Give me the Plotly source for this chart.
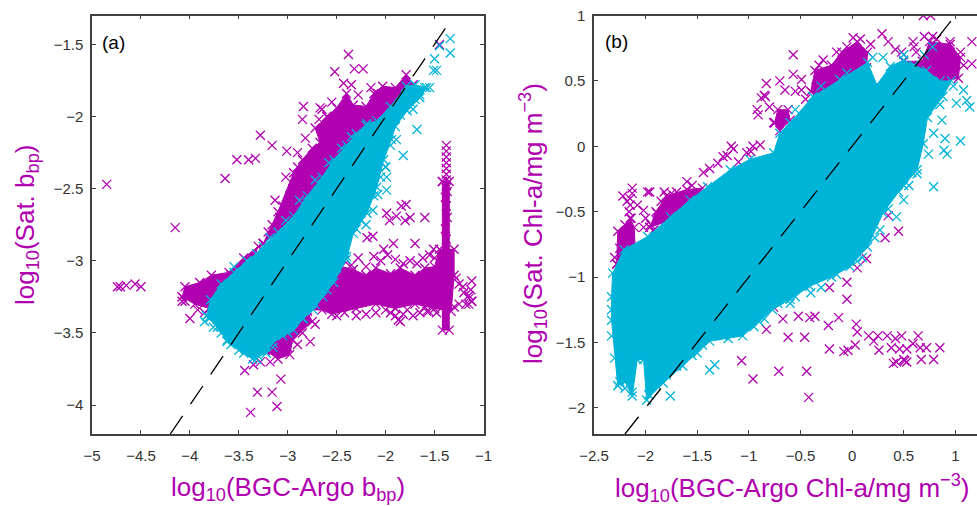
import plotly.graph_objects as go

MAG = "#b000b0"
CYA = "#00b4d8"
TXT = "#333333"

# Panel (a): dense cloud outlines
a_cyan_x = [-3.83,-3.79,-3.68,-3.55,-3.42,-3.32,-3.25,-3.1,-2.94,-2.8,-2.65,-2.53,-2.4,-2.3,-2.19,-2.09,-1.95,-1.79,-1.7,-1.58,-1.65,-1.78,-1.9,-1.94,-2.02,-2.09,-2.19,-2.33,-2.4,-2.53,-2.64,-2.74,-2.84,-2.94,-3.05,-3.15,-3.22,-3.36,-3.5,-3.62,-3.72]
a_cyan_y = [-3.38,-3.27,-3.16,-3.08,-3.0,-2.95,-2.9,-2.8,-2.69,-2.55,-2.42,-2.3,-2.2,-2.12,-2.05,-2.03,-1.93,-1.79,-1.78,-1.8,-1.87,-1.96,-2.07,-2.16,-2.3,-2.49,-2.67,-2.81,-2.99,-3.15,-3.25,-3.34,-3.4,-3.48,-3.52,-3.57,-3.64,-3.68,-3.62,-3.55,-3.46]
a_mag1_x = [-4.08,-4.05,-3.9,-3.78,-3.6,-3.45,-3.3,-3.5,-3.72,-3.8,-3.95]
a_mag1_y = [-3.25,-3.18,-3.15,-3.1,-3.08,-2.98,-2.9,-3.2,-3.36,-3.33,-3.3]
a_mag2_x = [-3.25,-3.1,-2.94,-2.85,-2.75,-2.67,-2.72,-2.6,-2.5,-2.4,-2.33,-2.2,-2.12,-2.03,-1.9,-1.79,-1.72,-1.9,-2.2,-2.6,-3.0]
a_mag2_y = [-2.88,-2.66,-2.39,-2.3,-2.22,-2.18,-2.08,-2.0,-1.94,-1.84,-1.92,-1.93,-1.84,-1.79,-1.8,-1.71,-1.78,-1.9,-2.1,-2.4,-2.75]
a_mag3_x = [-2.65,-2.45,-2.33,-2.2,-2.1,-1.95,-1.85,-1.7,-1.6,-1.5,-1.45,-1.3,-1.3,-1.33,-1.5,-1.7,-1.9,-2.1,-2.3,-2.55,-2.65,-2.8]
a_mag3_y = [-3.2,-3.04,-3.06,-3.1,-3.05,-3.09,-3.05,-3.1,-3.05,-3.04,-2.92,-2.92,-3.1,-3.35,-3.33,-3.3,-3.33,-3.3,-3.33,-3.37,-3.34,-3.34]
a_mag4_x = [-3.23,-3.12,-2.9,-2.8,-2.75,-2.95,-2.98,-3.1]
a_mag4_y = [-3.62,-3.52,-3.42,-3.35,-3.42,-3.55,-3.65,-3.68]
a_col_x = [-1.42,-1.35,-1.35,-1.42]
a_col_y = [-2.45,-2.45,-3.48,-3.48]

# Panel (a): scattered crosses
a_mag_x = [-4.85,-4.15,-3.64,-3.52,-3.40,-3.33,-3.28,-3.16,-3.01,-2.84,-2.85,-2.67,-2.38,-2.52,-2.32,-2.23,-2.43,-1.45,-3.13,-3.16,-1.79,-1.84,-1.99,-1.96,-1.89,-1.80,-1.75,-1.60,-1.70,-1.51,-2.13,-2.19,-2.02,-1.92,-4.74,-4.71,-4.65,-4.56,-4.50,-4.0,-4.08,-2.77,-3.44,-3.07,-3.31,-3.16,-3.11,-3.38,-1.87,-1.82,-1.56,-1.12,-1.21,-1.12,-1.13,-1.15]
a_mag_y = [-2.47,-2.77,-2.43,-2.30,-2.30,-2.29,-2.13,-2.20,-2.24,-1.93,-2.02,-1.94,-1.57,-1.69,-1.67,-1.67,-1.77,-1.50,-2.58,-2.75,-2.61,-2.62,-2.67,-2.72,-2.69,-2.72,-2.70,-2.70,-2.88,-2.92,-2.83,-2.84,-2.92,-2.88,-3.18,-3.18,-3.17,-3.16,-3.18,-3.40,-3.28,-3.56,-3.76,-3.82,-3.91,-3.91,-4.01,-4.05,-3.41,-3.37,-3.35,-3.28,-3.18,-3.14,-3.2,-3.24]
a_column_x = [-1.38,-1.38,-1.38,-1.38,-1.38,-1.38,-1.38,-1.38,-1.37,-1.39,-1.38,-1.37,-1.39,-1.38]
a_column_y = [-2.2,-2.24,-2.28,-2.32,-2.36,-2.4,-2.44,-2.48,-2.52,-2.56,-2.62,-2.7,-2.78,-2.85]
a_up_x = [-3.05,-2.98,-2.93,-2.9,-3.08,-3.02,-3.25,-3.2,-3.3,-2.6,-2.55,-2.65,-2.9,-2.82,-2.95,-2.62,-2.68,-2.55,-2.35,-2.28,-2.15,-2.08]
a_up_y = [-2.62,-2.55,-2.48,-2.35,-2.7,-2.42,-2.88,-2.8,-2.95,-2.0,-2.05,-1.95,-2.25,-2.15,-2.5,-2.12,-2.02,-1.9,-1.78,-1.85,-1.8,-1.84]
a_band_x = [-2.42,-2.35,-2.28,-2.2,-2.12,-2.05,-1.98,-1.9,-1.82,-1.75,-1.68,-1.62,-1.55,-1.5,-1.28,-1.25,-1.2,-1.15,-2.5,-2.42,-2.3,-2.2,-2.1,-1.95,-1.85,-1.72,-1.65,-1.58,-1.48,-1.3,-1.25,-1.18,-1.15,-1.12,-2.0,-1.9,-1.78,-1.6]
a_band_y = [-3.0,-3.03,-2.98,-3.04,-2.97,-3.0,-2.96,-2.99,-3.02,-3.0,-3.02,-2.98,-2.96,-2.98,-3.12,-3.16,-3.22,-3.26,-3.38,-3.36,-3.38,-3.37,-3.36,-3.36,-3.42,-3.38,-3.36,-3.35,-3.36,-3.32,-3.3,-3.3,-3.3,-3.28,-3.34,-3.38,-3.34,-3.32]
a_left_x = [-3.85,-3.92,-3.72,-3.62,-3.5,-3.42,-3.58,-3.38,-4.0,-4.05]
a_left_y = [-3.36,-3.34,-3.36,-3.24,-3.22,-3.14,-3.1,-3.05,-3.22,-3.28]
a_low_x = [-3.0,-2.85,-2.72,-3.18,-3.35,-3.28,-2.9]
a_low_y = [-3.6,-3.5,-3.44,-3.7,-3.72,-3.7,-3.58]
a_cya_x = [-1.34,-1.34,-1.45,-1.50,-1.51,-1.48,-1.68,-1.82,-1.99,-1.99,-2.08,-2.13,-1.6,-1.72,-1.85,-1.89,-3.85,-3.76,-3.62,-3.32,-2.2,-2.0,-1.55,-1.65,-1.75,-2.4,-1.8,-1.7,-1.9,-1.95,-2.0,-2.05,-2.12,-2.25,-2.3,-2.42,-2.5,-2.6,-2.72,-2.85,-3.0,-3.15,-3.3,-3.45,-3.58,-3.68,-3.8,-3.55,-3.18,-3.02,-2.88,-2.72,-2.58,-2.45,-2.35,-2.2]
a_cya_y = [-1.46,-1.56,-1.51,-1.60,-1.68,-1.68,-2.09,-2.27,-2.42,-2.51,-2.54,-2.65,-1.80,-1.95,-1.99,-2.16,-3.42,-3.46,-3.56,-3.68,-2.75,-2.35,-1.8,-1.85,-1.9,-2.97,-1.85,-1.88,-2.0,-2.2,-2.35,-2.42,-2.55,-2.72,-2.78,-2.92,-3.05,-3.2,-3.3,-3.4,-3.5,-3.6,-3.66,-3.64,-3.58,-3.5,-3.4,-3.04,-2.84,-2.72,-2.58,-2.44,-2.32,-2.22,-2.14,-2.06]

# Panel (b): dense cloud outlines
b_cyan_x = [-2.27,-2.2,-2.13,-2.08,-2.02,-1.99,-1.83,-1.64,-1.5,-1.38,-1.2,-1.06,-0.9,-0.77,-0.6,-0.41,-0.2,-0.02,0.15,0.3,0.45,0.63,0.69,0.73,0.88,0.96,0.85,0.72,0.6,0.5,0.37,0.24,0.15,-0.12,-0.38,-0.6,-0.7,-0.76,-0.99,-1.18,-1.4,-1.57,-1.76,-1.98,-2.21,-2.32,-2.33,-2.33]
b_cyan_y = [-1.83,-1.8,-1.91,-1.63,-1.63,-1.94,-1.81,-1.68,-1.58,-1.49,-1.47,-1.45,-1.34,-1.25,-1.17,-1.07,-1.0,-0.92,-0.77,-0.51,-0.35,-0.18,0.02,0.22,0.38,0.5,0.5,0.58,0.62,0.66,0.61,0.47,0.64,0.51,0.38,0.18,0.1,-0.05,-0.1,-0.18,-0.31,-0.41,-0.54,-0.69,-0.79,-0.97,-1.15,-1.33]
b_mag1_x = [-2.28,-2.27,-2.2,-2.15,-2.11,-2.1,-2.13]
b_mag1_y = [-0.9,-0.65,-0.6,-0.55,-0.62,-0.8,-0.85]
b_mag2_x = [-1.96,-1.9,-1.8,-1.6,-1.45,-1.5,-1.7]
b_mag2_y = [-0.62,-0.5,-0.38,-0.33,-0.32,-0.4,-0.55]
b_mag3_x = [-0.4,-0.36,-0.2,-0.1,0.05,0.15,0.14,-0.05,-0.3]
b_mag3_y = [0.42,0.58,0.62,0.72,0.8,0.72,0.6,0.5,0.35]
b_mag4_x = [0.43,0.5,0.68,0.75,0.95,1.05,1.03,0.9,0.75]
b_mag4_y = [0.5,0.65,0.65,0.8,0.78,0.68,0.52,0.5,0.4]
b_mag5_x = [-0.75,-0.72,-0.62,-0.6,-0.7]
b_mag5_y = [0.18,0.28,0.28,0.2,0.12]

# Panel (b): scattered crosses
b_mag_x = [-1.07,-0.96,-0.71,-0.44,-0.42,-0.62,-0.46,-0.52,-0.36,-0.22,-0.05,-0.05,-0.13,-0.23,-0.22,0.04,0.05,0.16,0.25,0.34,0.48,0.64,-0.08,-0.04,0.03,0.21,0.26,0.38,0.42,0.46,0.53,0.59,0.66,0.72,0.85,0.79,0.67,0.4,0.43,0.51,0.53,0.5,0.05,0.14,-0.41,-0.67,-0.83,-0.76,-0.57,0.29,0.35,0.01,0.59,0.42,0.69,0.76,1.16,1.16,-0.57,-0.49,-0.49,-0.7,-0.65,-0.83,-0.84,-0.91,-0.76,-1.17,-0.96,-0.89,-1.02,-1.21,-1.38,-1.6,-1.96,-2.13,-2.22,0.45,0.32,0.35,-1.44,-1.89,-2.02,-0.88,-0.85,
 -2.15,-2.15,-2.16,-2.13,-2.18,-2.14,-2.08,-2.0,-1.95,-1.85,-1.75,-1.98,-1.92,-2.02,-1.82,-1.7,-1.55,-1.3,-1.25,-1.1,-1.15,-0.98,-0.32,-0.28,-0.15,-0.05,0.08,0.18,0.4,0.48,0.55,0.62,0.82,0.9,1.05,1.08,0.7,0.78,0.95,0.6,-0.35,-0.25,-0.55,-0.45,-0.92,-0.8,-2.3,-2.25]
b_mag_y = [-1.64,-1.78,-1.72,-1.72,-1.92,-1.46,-1.46,-1.30,-1.30,-1.08,-1.04,-1.17,-1.31,-1.37,-1.55,-1.36,-1.42,-1.45,-1.45,-1.45,-1.45,-1.45,-1.57,-1.56,-1.52,-1.49,-1.56,-1.54,-1.47,-1.55,-1.55,-1.51,-1.54,-1.54,-1.54,-1.63,-1.63,-1.66,-1.65,-1.64,-1.65,-1.63,-0.93,-0.86,-1.31,-1.32,-1.4,-1.23,0.7,0.86,0.8,0.83,0.8,0.74,1.0,1.0,0.8,0.63,0.55,0.51,0.43,0.5,0.43,0.48,0.38,0.24,0.18,0.0,0.0,0.01,-0.05,-0.07,-0.17,-0.27,-0.35,-0.32,-0.38,-0.65,-0.7,-0.53,-0.2,-0.51,-0.49,0.37,0.39,
 -0.4,-0.45,-0.5,-0.36,-0.42,-0.55,-0.45,-0.55,-0.6,-0.42,-0.36,-0.35,-0.64,-0.62,-0.35,-0.35,-0.3,-0.13,-0.08,-0.12,-0.02,-0.04,0.62,0.66,0.72,0.76,0.82,0.78,0.55,0.72,0.6,0.72,0.82,0.74,0.72,0.62,0.84,0.84,0.8,0.76,0.45,0.52,0.42,0.36,0.28,0.3,-0.85,-0.78]
b_cya_x = [0.79,1.05,0.9,0.89,0.92,0.74,0.79,0.87,1.01,1.11,1.14,1.08,0.5,0.43,0.27,0.63,-1.76,-1.38,-1.33,0.55,0.2,0.1,-0.6,-0.4,-2.33,-2.33,-2.3,-2.25,-2.2,-2.13,-1.97,-1.9,-1.8,-1.7,-1.55,-1.45,-1.25,-1.1,-0.95,-0.85,-0.72,-0.55,-0.3,-0.15,0.05,0.22,0.35,0.5,0.58,0.78,0.85,0.98,-0.55,-0.3,-0.05,0.3,0.5,0.7,0.78]
b_cya_y = [-0.31,0.04,0.06,-0.03,-0.06,-0.06,0.1,0.2,0.33,0.35,0.3,0.43,-0.41,-0.54,-0.64,-0.21,-1.91,-1.71,-1.67,-0.3,0.68,-0.85,-1.2,-1.12,-1.25,-1.45,-1.62,-1.8,-1.85,-1.88,-1.9,-1.82,-1.75,-1.68,-1.6,-1.52,-1.45,-1.42,-1.38,-1.32,-1.2,-1.15,-1.08,-0.98,-0.88,-0.7,-0.48,-0.3,-0.2,0.42,0.32,0.46,0.28,0.46,0.56,0.68,0.7,0.7,0.76]

diag_a = [-4.2, -1.37]
diag_b = [-2.2, 1.0]
a_xticks = [-5,-4.5,-4,-3.5,-3,-2.5,-2,-1.5,-1]
a_xlabels = ["−5","−4.5","−4","−3.5","−3","−2.5","−2","−1.5","−1"]
a_yticks = [-4,-3.5,-3,-2.5,-2,-1.5]
a_ylabels = ["−4","−3.5","−3","−2.5","−2","−1.5"]
b_xticks = [-2.5,-2,-1.5,-1,-0.5,0,0.5,1]
b_xlabels = ["−2.5","−2","−1.5","−1","−0.5","0","0.5","1"]
b_yticks = [-2,-1.5,-1,-0.5,0,0.5,1]
b_ylabels = ["−2","−1.5","−1","−0.5","0","0.5","1"]

fig = go.Figure()
def blob(x, y, c, ax):
    fig.add_trace(go.Scatter(x=x+x[:1], y=y+y[:1], mode="lines+markers", fill="toself", fillcolor=c,
        line=dict(color=c, width=1),
        marker=dict(symbol="x-thin", size=9, line=dict(color=c, width=1.3)),
        xaxis=ax[0], yaxis=ax[1], showlegend=False, hoverinfo="skip"))
def cross(x, y, c, ax):
    fig.add_trace(go.Scatter(x=x, y=y, mode="markers",
        marker=dict(symbol="x-thin", size=9, line=dict(color=c, width=1.3)),
        xaxis=ax[0], yaxis=ax[1], showlegend=False))

A = ("x", "y"); B = ("x2", "y2")
for x, y in [(a_mag1_x,a_mag1_y),(a_mag2_x,a_mag2_y),(a_mag3_x,a_mag3_y),(a_mag4_x,a_mag4_y),(a_col_x,a_col_y)]:
    blob(x, y, MAG, A)
for x, y in [(a_mag_x,a_mag_y),(a_column_x,a_column_y),(a_up_x,a_up_y),(a_band_x,a_band_y),(a_left_x,a_left_y),(a_low_x,a_low_y)]:
    cross(x, y, MAG, A)
blob(a_cyan_x, a_cyan_y, CYA, A)
cross(a_cya_x, a_cya_y, CYA, A)
for x, y in [(b_mag1_x,b_mag1_y),(b_mag2_x,b_mag2_y),(b_mag3_x,b_mag3_y),(b_mag4_x,b_mag4_y),(b_mag5_x,b_mag5_y)]:
    blob(x, y, MAG, B)
cross(b_mag_x, b_mag_y, MAG, B)
blob(b_cyan_x, b_cyan_y, CYA, B)
cross(b_cya_x, b_cya_y, CYA, B)
for d, ax in [(diag_a, A), (diag_b, B)]:
    fig.add_trace(go.Scatter(x=d, y=d, mode="lines", line=dict(color="black", width=1.3, dash="22px,14px"),
        xaxis=ax[0], yaxis=ax[1], showlegend=False))

W, H = 977, 506
def yd(py): return (H-py)/H
axis = dict(showgrid=False, zeroline=False, showline=True, linecolor="#404040", linewidth=1.5,
            mirror="ticks", ticks="inside", ticklen=4, tickwidth=1, tickcolor="#404040", automargin=False,
            tickfont=dict(size=15, color=TXT, family="Liberation Sans"))
tf = dict(size=26, color=MAG, family="Liberation Sans")
def title(text, x, y, rot=0):
    return dict(text=text, x=x/W, y=yd(y), xref="paper", yref="paper", xanchor="center", yanchor="middle",
                textangle=rot, showarrow=False, font=tf)
lab = dict(size=19, color="black", family="Liberation Sans")
fig.update_layout(
    width=W, height=H, autosize=False, margin=dict(l=0, r=0, t=0, b=0),
    paper_bgcolor="white", plot_bgcolor="white",
    xaxis=dict(axis, domain=[92/W, 483.5/W], range=[-5,-1], tickvals=a_xticks, ticktext=a_xlabels, ticklabelstandoff=7),
    yaxis=dict(axis, domain=[yd(434), yd(15.5)], range=[-4.2,-1.3], tickvals=a_yticks, ticktext=a_ylabels, ticklabelstandoff=4),
    xaxis2=dict(axis, domain=[594/W, 1], range=[-2.5,1.21], tickvals=b_xticks, ticktext=b_xlabels, anchor="y2", ticklabelstandoff=7),
    yaxis2=dict(axis, domain=[yd(434), yd(15.5)], range=[-2.2,1], tickvals=b_yticks, ticktext=b_ylabels, anchor="x2", ticklabelstandoff=4, mirror=False),
    annotations=[
        dict(text="(a)", x=-4.92, y=-1.49, xref="x", yref="y", xanchor="left", showarrow=False, font=lab),
        dict(text="(b)", x=-2.41, y=0.8, xref="x2", yref="y2", xanchor="left", showarrow=False, font=lab),
        title("log<sub>10</sub>(BGC-Argo b<sub>bp</sub>)", 288, 488),
        title("log<sub>10</sub>(Sat. b<sub>bp</sub>)", 26, 225, -90),
        title("log<sub>10</sub>(BGC-Argo Chl-a/mg m<sup>−3</sup>)", 792, 488),
        title("log<sub>10</sub>(Sat. Chl-a/mg m<sup>−3</sup>)", 533, 224, -90),
    ],
)
fig.write_html("out.html", post_script="document.body.style.margin='0';", config={"displayModeBar": False})
